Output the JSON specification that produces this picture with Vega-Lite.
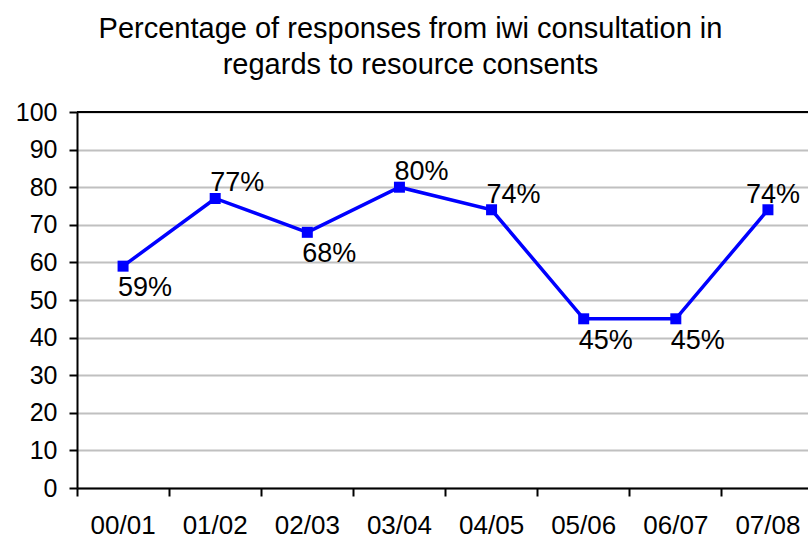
{
  "$schema": "https://vega.github.io/schema/vega-lite/v6.json",
  "autosize": {"type": "none"},
  "width": 731,
  "height": 376,
  "padding": {"left": 77, "top": 112, "right": 0, "bottom": 52},
  "background": "white",
  "config": {
    "font": "Liberation Sans",
    "view": {"stroke": null}
  },
  "title": {
    "text": ["Percentage of responses from iwi consultation in", "regards to resource consents"],
    "font": "Liberation Sans",
    "fontSize": 29,
    "fontWeight": "normal",
    "color": "black",
    "anchor": "middle",
    "frame": "group",
    "lineHeight": 36,
    "dx": -32,
    "offset": 20
  },
  "data": {
    "values": [
      {"year": "00/01", "pct": 59},
      {"year": "01/02", "pct": 77},
      {"year": "02/03", "pct": 68},
      {"year": "03/04", "pct": 80},
      {"year": "04/05", "pct": 74},
      {"year": "05/06", "pct": 45},
      {"year": "06/07", "pct": 45},
      {"year": "07/08", "pct": 74}
    ]
  },
  "encoding": {
    "x": {
      "field": "year",
      "type": "ordinal",
      "sort": null,
      "scale": {"type": "band", "range": [0, 737], "paddingInner": 0, "paddingOuter": 0},
      "axis": {
        "title": null,
        "labelAngle": 0,
        "bandPosition": 0,
        "labelOffset": 0,
        "labelFont": "Liberation Sans",
        "labelFontSize": 26,
        "labelColor": "black",
        "labelPadding": 16,
        "domainColor": "black",
        "domainWidth": 2,
        "tickColor": "black",
        "tickWidth": 2,
        "tickSize": 8,
        "grid": false
      }
    },
    "y": {
      "field": "pct",
      "type": "quantitative",
      "scale": {"domain": [0, 100], "nice": false},
      "axis": {
        "title": null,
        "values": [0, 10, 20, 30, 40, 50, 60, 70, 80, 90, 100],
        "labelFont": "Liberation Sans",
        "labelFontSize": 25,
        "labelColor": "black",
        "labelPadding": 12,
        "domainColor": "black",
        "domainWidth": 2,
        "tickColor": "black",
        "tickWidth": 2,
        "tickSize": 8,
        "grid": true,
        "gridColor": "#c0c0c0",
        "gridWidth": 2
      }
    }
  },
  "layer": [
    {
      "mark": {"type": "rule", "color": "black", "strokeWidth": 2},
      "encoding": {"x": null, "y": {"datum": 100, "type": "quantitative"}}
    },
    {
      "mark": {
        "type": "line",
        "color": "#0000FF",
        "strokeWidth": 3.5,
        "point": {"shape": "square", "size": 121, "filled": true, "color": "#0000FF", "opacity": 1}
      }
    },
    {
      "transform": [{"filter": {"field": "year", "oneOf": ["01/02", "03/04", "04/05"]}}],
      "mark": {"type": "text", "fontSize": 27, "font": "Liberation Sans", "color": "black", "baseline": "alphabetic", "align": "center", "dx": 22, "dy": -7, "text": {"expr": "datum.pct + '%'"}}
    },
    {
      "transform": [{"filter": {"field": "year", "oneOf": ["07/08"]}}],
      "mark": {"type": "text", "fontSize": 27, "font": "Liberation Sans", "color": "black", "baseline": "alphabetic", "align": "center", "dx": 5, "dy": -7, "text": {"expr": "datum.pct + '%'"}}
    },
    {
      "transform": [{"filter": {"field": "year", "oneOf": ["00/01", "02/03", "05/06", "06/07"]}}],
      "mark": {"type": "text", "fontSize": 27, "font": "Liberation Sans", "color": "black", "baseline": "alphabetic", "align": "center", "dx": 22, "dy": 30, "text": {"expr": "datum.pct + '%'"}}
    }
  ]
}
